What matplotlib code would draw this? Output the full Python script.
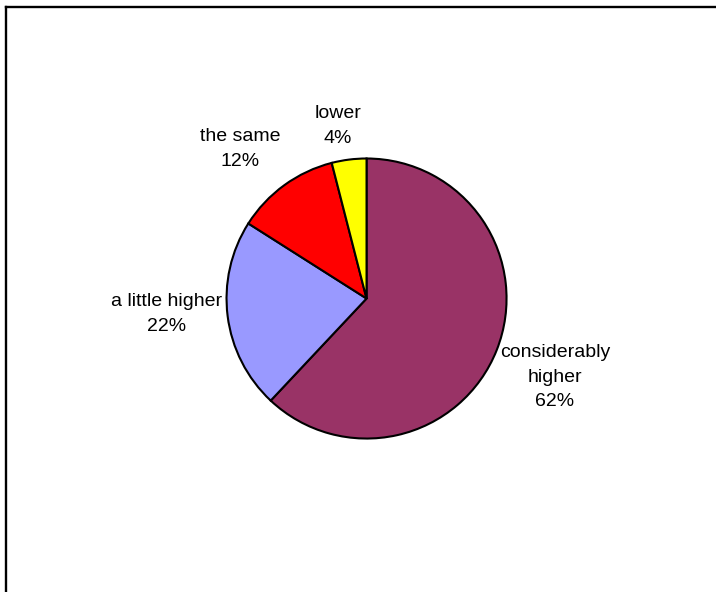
import matplotlib
matplotlib.use("Agg")
from matplotlib import pyplot as plt
from matplotlib.lines import Line2D

plt.rcParams['font.family'] = ['Liberation Sans', 'DejaVu Sans']

# answer categories and their shares (percent)
categories = ['considerably\nhigher', 'a little higher', 'the same', 'lower']
shares = [62, 22, 12, 4]
colors = ['#993366', '#9999FF', '#FF0000', '#FFFF00']

# where each label block sits, in pie-radius units from the centre
label_pos = [(1.346, -0.561), (-1.425, -0.111), (-0.904, 1.068), (-0.204, 1.232)]


def main():
    fig = plt.figure(figsize=(7.16, 5.92), dpi=100)
    ax = fig.add_axes([0, 0, 1, 1])

    wedges, _ = ax.pie(shares, colors=colors, startangle=90, counterclock=False,
                       radius=1.0, center=(0, 0),
                       wedgeprops=dict(edgecolor='black', linewidth=1.5))

    for name, val, (x, y) in zip(categories, shares, label_pos):
        ax.text(x, y, '%s\n%d%%' % (name, val), ha='center', va='center',
                fontsize=14, color='black', linespacing=1.6)

    ax.set_xlim(-2.618, 2.496)
    ax.set_ylim(-2.096, 2.132)
    ax.set_aspect('auto')
    ax.axis('off')

    # frame lines along the top and left edge
    W, H = 716, 592
    fig.add_artist(Line2D([6.3 / W, 1], [1 - 6.8 / H, 1 - 6.8 / H],
                          transform=fig.transFigure, color='black', lw=1.7))
    fig.add_artist(Line2D([6.3 / W, 6.3 / W], [0, 1 - 6.8 / H],
                          transform=fig.transFigure, color='black', lw=1.7))

    fig.savefig('out.png', dpi=100, facecolor='white')


if __name__ == '__main__':
    main()
